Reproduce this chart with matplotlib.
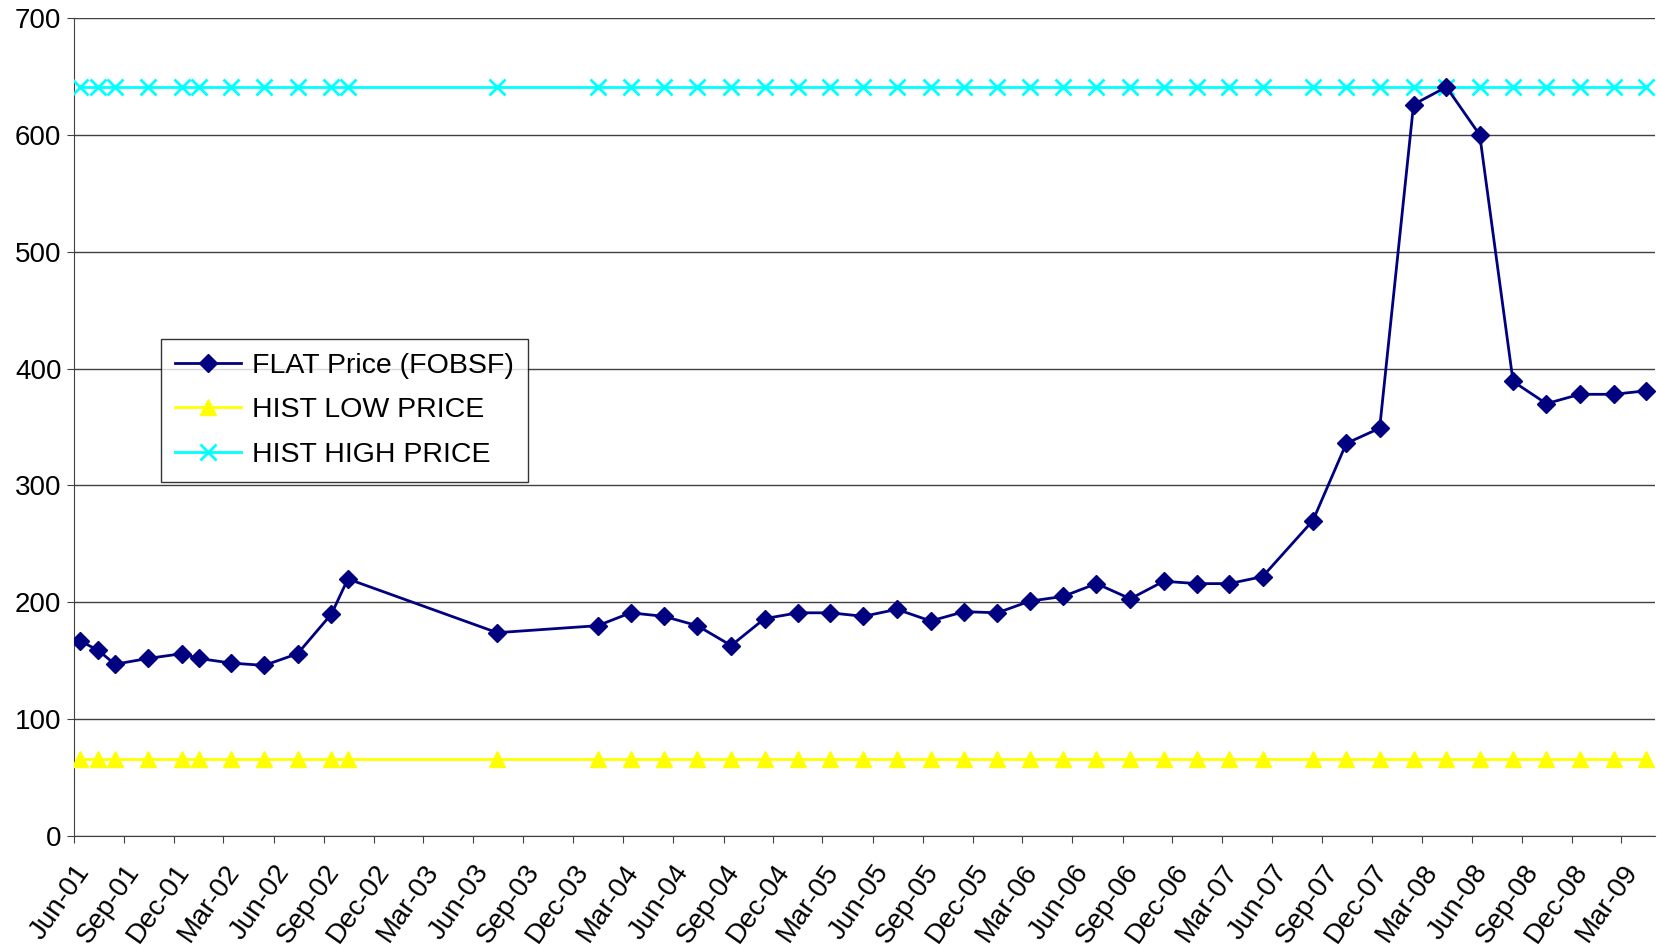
import numpy as np
import pandas as pd
import matplotlib
matplotlib.use("Agg")
import matplotlib.pyplot as plt
import matplotlib.dates as mdates

plt.rcParams['font.family'] = ['Liberation Sans', 'DejaVu Sans']

dates = pd.to_datetime([
    "2001-06-12", "2001-07-15", "2001-08-15", "2001-10-15", "2001-12-15",
    "2002-01-15", "2002-03-15", "2002-05-15", "2002-07-15", "2002-09-15",
    "2002-10-15", "2003-07-15", "2004-01-15", "2004-03-15", "2004-05-15",
    "2004-07-15", "2004-09-15", "2004-11-15", "2005-01-15", "2005-03-15",
    "2005-05-15", "2005-07-15", "2005-09-15", "2005-11-15", "2006-01-15",
    "2006-03-15", "2006-05-15", "2006-07-15", "2006-09-15", "2006-11-15",
    "2007-01-15", "2007-03-15", "2007-05-15", "2007-08-15", "2007-10-15",
    "2007-12-15", "2008-02-15", "2008-04-15", "2008-06-15", "2008-08-15",
    "2008-10-15", "2008-12-15", "2009-02-15", "2009-04-15",
])

flat_price = [
    167, 159, 147, 152, 156, 152, 148, 146, 156, 190,
    220, 174, 180, 191, 188, 180, 163, 186, 191, 191,
    188, 194, 184, 192, 191, 201, 205, 216, 203, 218,
    216, 216, 222, 270, 336, 349, 626, 641, 600, 389,
    370, 378, 378, 381,
]
hist_low = [66] * len(dates)
hist_high = [641] * len(dates)

fig = plt.figure(figsize=(16.58, 9.5), dpi=100)
ax = fig.add_axes([0.0446, 0.12, 0.9534, 0.861])

ax.plot(dates, flat_price, color="#000080", lw=2, marker="D", ms=9,
        label="FLAT Price (FOBSF)", zorder=5)
ax.plot(dates, hist_low, color="#FFFF00", lw=2, marker="^", ms=12,
        label="HIST LOW PRICE", zorder=3)
ax.plot(dates, hist_high, color="#00FFFF", lw=2, marker="x", ms=11, mew=2,
        label="HIST HIGH PRICE", zorder=4)

ax.set_ylim(0, 700)
ax.set_yticks(np.arange(0, 701, 100))
ax.set_xlim(pd.Timestamp("2001-06-01"), pd.Timestamp("2009-05-01"))
ax.xaxis.set_major_locator(mdates.MonthLocator(bymonth=[3, 6, 9, 12], bymonthday=1))
ax.xaxis.set_major_formatter(mdates.DateFormatter("%b-%y"))

ax.grid(axis="y", color="#404040", lw=1)
ax.set_axisbelow(True)
for s in ["top", "right"]:
    ax.spines[s].set_visible(False)
for s in ["left", "bottom"]:
    ax.spines[s].set_color("#404040")
ax.tick_params(axis="both", length=5, color="#404040")
ax.tick_params(axis="y", labelsize=20, pad=4)
ax.tick_params(axis="x", labelsize=20, pad=12)
plt.setp(ax.get_xticklabels(), rotation=55, ha="right", rotation_mode="anchor")

leg = ax.legend(loc="upper left", bbox_to_anchor=(0.055, 0.608), fontsize=20.5,
                frameon=True, fancybox=False, edgecolor="black", borderaxespad=0,
                handlelength=2.3, handletextpad=0.4, borderpad=0.5,
                labelspacing=0.65)
leg.get_frame().set_linewidth(1)

fig.savefig("out.png", dpi=100)
